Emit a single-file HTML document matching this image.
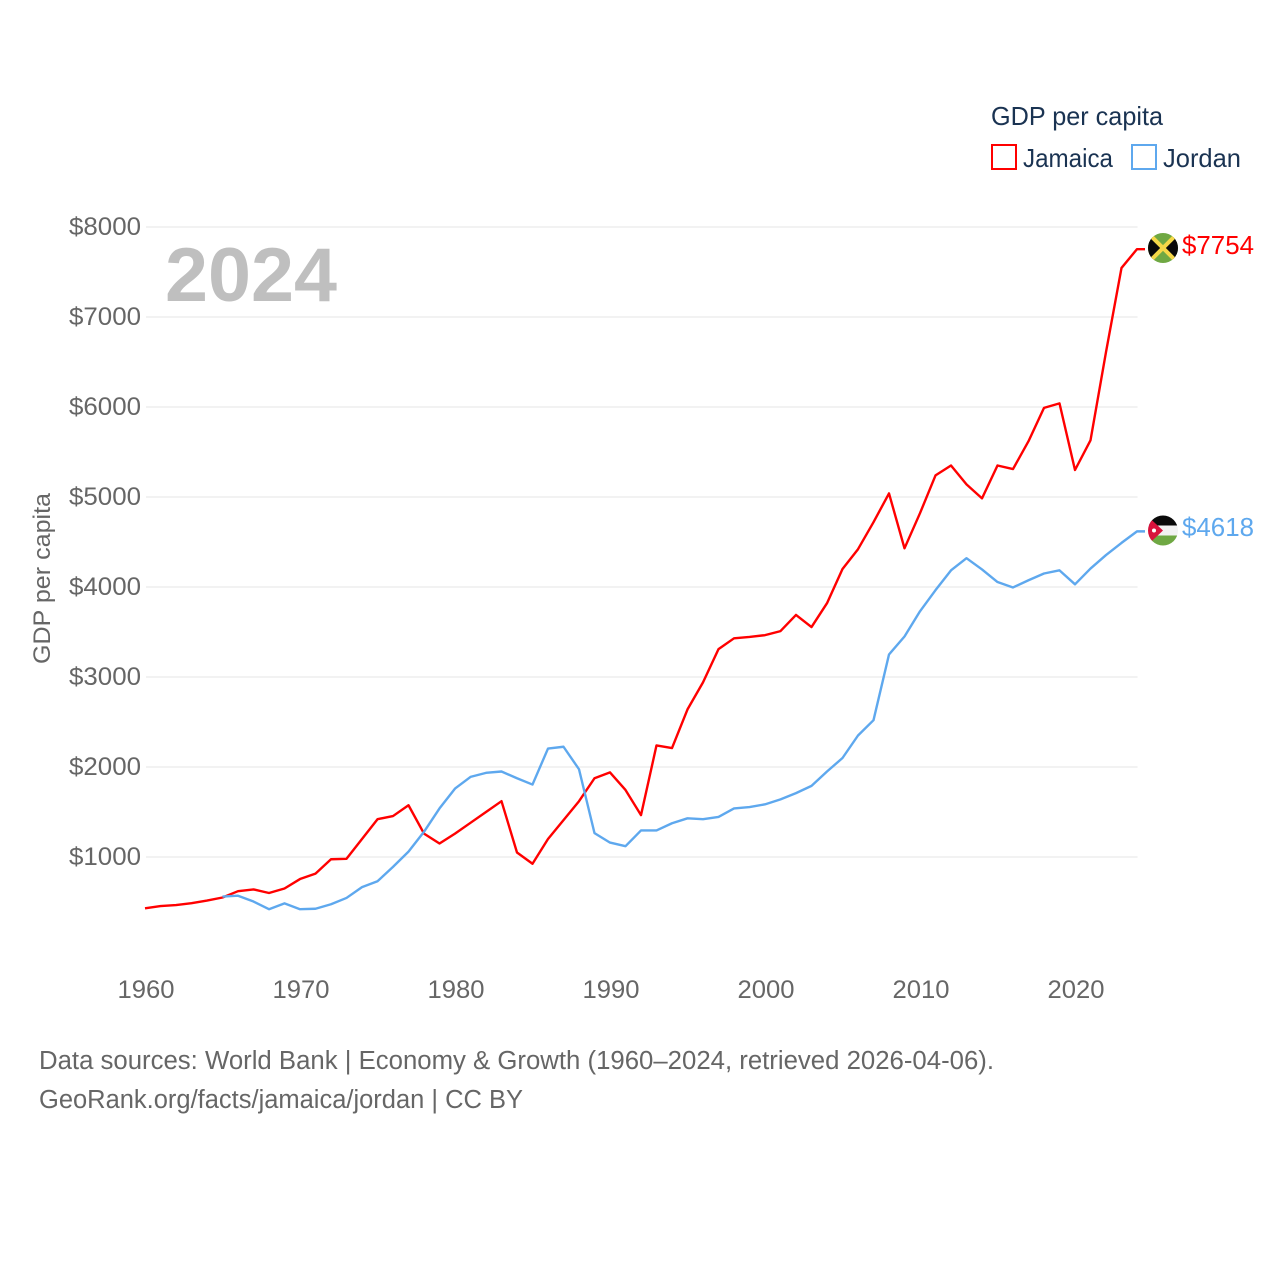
<!DOCTYPE html>
<html lang="en">
<head>
<meta charset="utf-8">
<title>GDP per capita: Jamaica vs Jordan</title>
<style>
html,body{margin:0;padding:0;background:#fff;}
svg{display:block;font-family:"Liberation Sans",sans-serif;}
</style>
</head>
<body>
<svg id="chart" width="1280" height="1280" viewBox="0 0 1280 1280" xmlns="http://www.w3.org/2000/svg">
  <defs>
    <clipPath id="clip-jm"><circle cx="1163" cy="248" r="15"/></clipPath>
    <clipPath id="clip-jo"><circle cx="1163" cy="530.5" r="15"/></clipPath>
  </defs>
  <rect x="0" y="0" width="1280" height="1280" fill="#ffffff"/>
  <g id="grid"></g>
  <g id="ytick-labels"></g>
  <g id="xtick-labels"></g>
  <text x="165" y="301" font-size="76" font-weight="bold" fill="#bfbfbf" textLength="172" lengthAdjust="spacingAndGlyphs">2024</text>
  <text transform="translate(50,578.5) rotate(-90)" text-anchor="middle" font-size="24" fill="#666666" textLength="171" lengthAdjust="spacingAndGlyphs">GDP per capita</text>
  <g id="series"></g>

  <g clip-path="url(#clip-jm)">
    <rect x="1148" y="233" width="30" height="30" fill="#6fa843"/>
    <polygon points="1148,233 1163,248 1148,263" fill="#0a0a0a"/>
    <polygon points="1178,233 1163,248 1178,263" fill="#0a0a0a"/>
    <line x1="1148" y1="233" x2="1178" y2="263" stroke="#f5d848" stroke-width="4"/>
    <line x1="1178" y1="233" x2="1148" y2="263" stroke="#f5d848" stroke-width="4"/>
  </g>
  <g clip-path="url(#clip-jo)">
    <rect x="1148" y="515.5" width="30" height="10" fill="#0a0a0a"/>
    <rect x="1148" y="525.5" width="30" height="10" fill="#f2f2f2"/>
    <rect x="1148" y="535.5" width="30" height="10.5" fill="#6fa843"/>
    <polygon points="1147,515.5 1163,530.5 1147,545.5" fill="#d8123c"/>
    <circle cx="1154" cy="530.5" r="2" fill="#ffffff"/>
  </g>

  <text x="1182" y="254" font-size="25.5" fill="#ff0000" textLength="72" lengthAdjust="spacingAndGlyphs">$7754</text>
  <text x="1182" y="536" font-size="25.5" fill="#5ea8ee" textLength="72" lengthAdjust="spacingAndGlyphs">$4618</text>

  <g>
    <text x="991" y="125" font-size="26" fill="#1a3352" textLength="172" lengthAdjust="spacingAndGlyphs">GDP per capita</text>
    <rect x="992" y="145" width="24" height="24" fill="none" stroke="#ff0000" stroke-width="2"/>
    <text x="1023" y="167" font-size="26" fill="#1a3352" textLength="90" lengthAdjust="spacingAndGlyphs">Jamaica</text>
    <rect x="1132" y="145" width="24" height="24" fill="none" stroke="#5ea8ee" stroke-width="2"/>
    <text x="1163" y="167" font-size="26" fill="#1a3352" textLength="78" lengthAdjust="spacingAndGlyphs">Jordan</text>
  </g>

  <text x="39" y="1069" font-size="25.5" fill="#666666" textLength="955" lengthAdjust="spacingAndGlyphs">Data sources: World Bank | Economy &amp; Growth (1960–2024, retrieved 2026-04-06).</text>
  <text x="39" y="1108" font-size="25.5" fill="#666666" textLength="484" lengthAdjust="spacingAndGlyphs">GeoRank.org/facts/jamaica/jordan | CC BY</text>
</svg>
<script>
const startYear = 1960;
const jordanStartYear = 1965;
const yTickValues = [1000, 2000, 3000, 4000, 5000, 6000, 7000, 8000];
const yTickLabels = ["$1000", "$2000", "$3000", "$4000", "$5000", "$6000", "$7000", "$8000"];
const xTickYears = [1960, 1970, 1980, 1990, 2000, 2010, 2020];
const xTickLabels = ["1960", "1970", "1980", "1990", "2000", "2010", "2020"];
const jamaicaValues = [
  430, 455, 466, 487, 516, 550, 620, 640, 600, 650,
  755, 815, 975, 980, 1200, 1420, 1455, 1575, 1260, 1150,
  1260, 1380, 1500, 1620, 1050, 925, 1200, 1410, 1620, 1875,
  1940, 1745, 1465, 2240, 2210, 2640, 2940, 3310, 3430, 3445,
  3465, 3510, 3690, 3555, 3820, 4200, 4420, 4720, 5040, 4430,
  4820, 5240, 5350, 5140, 4985, 5350, 5310, 5620, 5990, 6040,
  5300, 5630, 6610, 7545, 7754
];
const jordanValues = [
  560, 570, 505, 420, 485,
  420, 425, 475, 545, 665, 730, 890, 1060, 1280, 1540,
  1760, 1890, 1935, 1950, 1875, 1805, 2205, 2225, 1975, 1265,
  1160, 1120, 1295, 1295, 1375, 1430, 1420, 1445, 1540, 1555,
  1585, 1640, 1710, 1790, 1950, 2100, 2350, 2520, 3250, 3450,
  3730, 3965, 4185, 4320, 4195, 4055, 3995, 4075, 4150, 4185,
  4030, 4205, 4355, 4490, 4618
];

const SVG_NS = "http://www.w3.org/2000/svg";
function xScale(year) { return 145 + (year - 1960) * 15.5; }
function yScale(value) { return 947 - value * 0.09; }

function makeText(x, y, str, anchor, width) {
  const t = document.createElementNS(SVG_NS, "text");
  t.setAttribute("x", x);
  t.setAttribute("y", y);
  t.setAttribute("font-size", "25");
  t.setAttribute("fill", "#666666");
  t.setAttribute("text-anchor", anchor);
  t.setAttribute("textLength", width);
  t.setAttribute("lengthAdjust", "spacingAndGlyphs");
  t.textContent = str;
  return t;
}

const gridGroup = document.getElementById("grid");
const yLabelGroup = document.getElementById("ytick-labels");
yTickValues.forEach(function (v, i) {
  const line = document.createElementNS(SVG_NS, "line");
  
  
  line.setAttribute("x1", xScale(1960) + 1);
  line.setAttribute("x2", xScale(2024) + 0.5);
  line.setAttribute("y1", yScale(v));
  line.setAttribute("y2", yScale(v));
  line.setAttribute("stroke", "#eeeeee");
  line.setAttribute("stroke-width", "1.5");
  gridGroup.appendChild(line);
  const label = makeText(141, yScale(v) + 8, yTickLabels[i], "end", 72);
  
  
  yLabelGroup.appendChild(label);
});

const xLabelGroup = document.getElementById("xtick-labels");
xTickYears.forEach(function (yr, i) {
  const label = makeText(xScale(yr) + 1, 998, xTickLabels[i], "middle", 57);
  
  
  xLabelGroup.appendChild(label);
});

function linePath(values, firstYear) {
  const pts = values.map(function (v, i) {
    return xScale(firstYear + i).toFixed(2) + "," + yScale(v).toFixed(2);
  });
  const last = values[values.length - 1];
  const lastYear = firstYear + values.length - 1;
  pts.push((xScale(lastYear) + 8).toFixed(2) + "," + yScale(last).toFixed(2));
  return "M" + pts.join("L");
}

const seriesGroup = document.getElementById("series");

const jamaicaLine = document.createElementNS(SVG_NS, "path");


jamaicaLine.setAttribute("d", linePath(jamaicaValues, startYear));
jamaicaLine.setAttribute("fill", "none");
jamaicaLine.setAttribute("stroke", "#ff0000");
jamaicaLine.setAttribute("stroke-width", "2.4");
jamaicaLine.setAttribute("stroke-linejoin", "round");
seriesGroup.appendChild(jamaicaLine);

const jordanLine = document.createElementNS(SVG_NS, "path");


jordanLine.setAttribute("d", linePath(jordanValues, jordanStartYear));
jordanLine.setAttribute("fill", "none");
jordanLine.setAttribute("stroke", "#5ea8ee");
jordanLine.setAttribute("stroke-width", "2.4");
jordanLine.setAttribute("stroke-linejoin", "round");
seriesGroup.appendChild(jordanLine);
</script>
</body>
</html>
